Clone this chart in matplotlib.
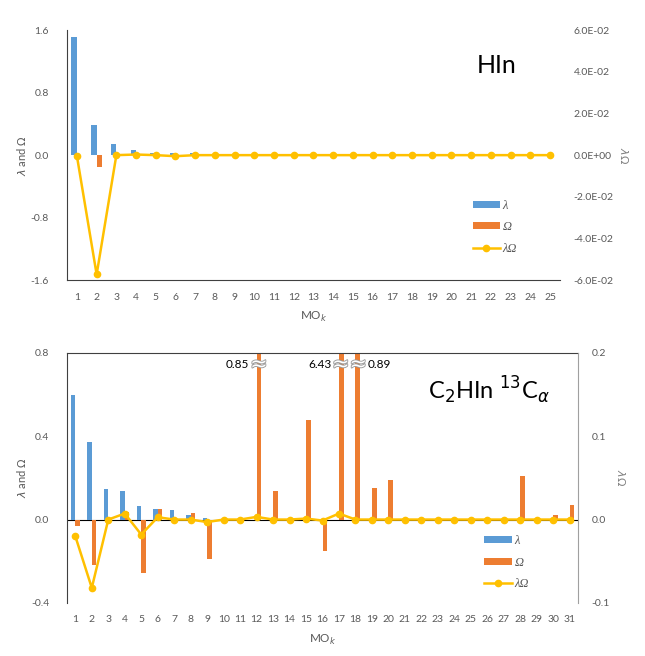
import matplotlib
matplotlib.use('Agg')
import matplotlib.pyplot as plt
import matplotlib.patheffects as pe
from matplotlib.ticker import FuncFormatter
import numpy as np

plt.rcParams['font.family'] = ['Lato', 'DejaVu Sans']
plt.rcParams['mathtext.fontset'] = 'dejavusans'

# HIn data
mo_hin = list(range(1, 26))
lam_hin = [1.515, 0.38, 0.141, 0.064, 0.026, 0.026, 0.026] + [0.0] * 18
om_hin = [0.005, -0.149] + [0.0] * 23
lo_hin = [-0.0005, -0.0573, 0.0, 0.0003, 0.0, -0.0005] + [0.0] * 19

# C2HIn 13C-alpha data
mo_c2 = list(range(1, 32))
lam_c2 = [0.6, 0.373, 0.147, 0.139, 0.064, 0.053, 0.046, 0.024, 0.0096] + [0.0] * 22
om_c2 = [-0.032, -0.216, 0.0, 0.035, -0.259, 0.05, 0.0, 0.032, -0.187, 0.0,
         0.0, 0.85, 0.136, 0.0, 0.48, -0.149, 6.43, 0.89, 0.150, 0.19,
         0.0, 0.0, 0.0, 0.0, 0.0, 0.0, 0.0, 0.211, 0.0, 0.024, 0.072]
lo_c2 = [-0.02, -0.082, 0.0, 0.0072, -0.018, 0.0028, 0.0, 0.0, -0.003, 0.0,
         0.0, 0.0032, 0.0, 0.0, 0.0012, -0.0012, 0.0072, 0.0, 0.0, 0.0,
         0.0, 0.0, 0.0, 0.0, 0.0, 0.0, 0.0, 0.0, 0.0, 0.0, 0.0]
# clipped bars: groups of adjacent MOs share one break mark text
broken_groups = [[12], [17, 18]]
broken_labels = ['0.85', '6.43', '0.89']

BLUE = '#5B9BD5'
ORANGE = '#ED7D31'
YELLOW = '#FFC000'
TXT = '#595959'
W = 0.28

fig = plt.figure(figsize=(6.45, 6.56), dpi=100)
ax1 = fig.add_axes([0.104, 0.573, 0.764, 0.381])
ax2 = fig.add_axes([0.104, 0.081, 0.792, 0.381])


def setup(ax, axr, n, ylim, yticks, rlim, rticks, rfmt):
    ax.set_xlim(0.5, n + 0.5)
    ax.set_ylim(*ylim)
    ax.set_yticks(yticks)
    ax.yaxis.set_major_formatter(FuncFormatter(lambda v, p: '%.1f' % v))
    ax.set_xticks(range(1, n + 1))
    ax.tick_params(length=0, labelsize=7.5, colors=TXT, pad=9)
    ax.tick_params(axis='y', pad=13)
    ax.set_ylabel(r'$\lambda$ and $\mathit{\Omega}$', fontsize=8, color=TXT, labelpad=2)
    ax.set_xlabel(r'MO$_k$', fontsize=8.5, color=TXT, labelpad=6)
    axr.set_ylim(*rlim)
    axr.set_yticks(rticks)
    axr.yaxis.set_major_formatter(FuncFormatter(rfmt))
    axr.tick_params(length=0, labelsize=7.5, colors=TXT, pad=10)
    axr.set_ylabel(r'$\lambda\mathit{\Omega}$', fontsize=8, color='#808080',
                   rotation=270, labelpad=12)
    for a in (ax, axr):
        for s in a.spines.values():
            s.set_visible(False)


def draw(ax, axr, mo, lam, om, lo):
    x = np.array(mo)
    ax.bar(x - W / 2, lam, W, color=BLUE)
    ax.bar(x + W / 2, om, W, color=ORANGE)
    axr.plot(x, lo, color=YELLOW, lw=1.8, marker='o', ms=4.5)


# top panel: HIn
ax1r = ax1.twinx()
setup(ax1, ax1r, 25, (-1.6, 1.6), [-1.6, -0.8, 0.0, 0.8, 1.6],
      (-0.06, 0.06), [-0.06, -0.04, -0.02, 0.0, 0.02, 0.04, 0.06],
      lambda v, p: '%.1E' % v if abs(v) > 1e-12 else '0.0E+00')
ax1.spines['left'].set_visible(True)
ax1.spines['bottom'].set_visible(True)
ax1.spines['left'].set_color('#404040')
ax1.spines['bottom'].set_color('#404040')
draw(ax1, ax1r, mo_hin, lam_hin, om_hin, lo_hin)
ax1.text(0.872, 0.86, 'HIn', transform=ax1.transAxes, fontsize=18,
         ha='center', va='center', color='black')

# bottom panel: C2HIn
ax2r = ax2.twinx()
setup(ax2, ax2r, 31, (-0.4, 0.8), [-0.4, 0.0, 0.4, 0.8],
      (-0.1, 0.2), [-0.1, 0.0, 0.1, 0.2], lambda v, p: '%.1f' % v)
ax2.spines['left'].set_visible(True)
ax2.spines['top'].set_visible(True)
ax2r.spines['right'].set_visible(True)
ax2.spines['left'].set_color('#404040')
ax2.spines['top'].set_color('#404040')
ax2r.spines['right'].set_color('#a0a0a0')
ax2.axhline(0, color='black', lw=0.8, zorder=1)
draw(ax2, ax2r, mo_c2, lam_c2, om_c2, lo_c2)
ax2.text(0.945, 0.85, r'C$_2$HIn $^{13}$C$_\alpha$', transform=ax2.transAxes,
         fontsize=17, ha='right', va='center', color='black')

# axis-break marks on clipped bars
for grp in broken_groups:
    ax2.text(np.mean(grp) + W / 2, 0.745, '\u2248' * len(grp), fontsize=15,
             ha='center', va='center', color='white', zorder=5, family='DejaVu Sans',
             path_effects=[pe.withStroke(linewidth=1.3, foreground='#9a9a9a')])
ax2.text(12 - 0.45, 0.745, broken_labels[0], fontsize=8.5, ha='right', va='center', color='black')
ax2.text(17 - 0.45, 0.745, broken_labels[1], fontsize=8.5, ha='right', va='center', color='black')
ax2.text(18 + 0.75, 0.745, broken_labels[2], fontsize=8.5, ha='left', va='center', color='black')

# legends
for ax, axr, anchor in ((ax1, ax1r, (0.80, 0.366)), (ax2, ax2r, (0.795, 0.316))):
    h1 = ax.containers[:2]
    h2 = axr.get_lines()[:1]
    leg = axr.legend(list(h1) + h2, ['\u03bb', '\u03a9', '\u03bb\u03a9'],
                     loc='upper left', bbox_to_anchor=anchor, frameon=False,
                     prop={'family': 'Liberation Serif', 'style': 'italic', 'size': 9},
                     handlelength=2.2, handleheight=0.5,
                     labelspacing=0.75, handletextpad=0.2)
    for t in leg.get_texts():
        t.set_color(TXT)

fig.savefig('out.png', dpi=100)
